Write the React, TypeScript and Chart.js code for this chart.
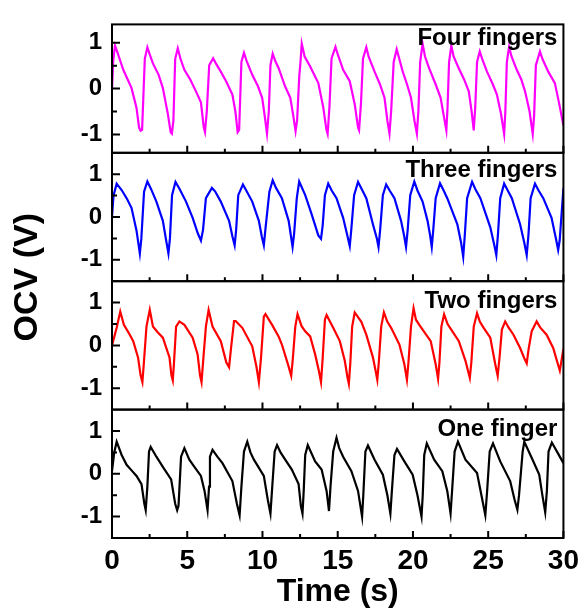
import { useEffect, useRef } from "react";
import { Chart, registerables } from "chart.js";

Chart.register(...registerables);

const FONT = "'Liberation Sans', Arial, Helvetica, sans-serif";

const PANEL_LABELS = ["Four fingers", "Three fingers", "Two fingers", "One finger"];
const PANEL_COLORS = ["#ff00ff", "#0000ff", "#ff0000", "#000000"];
const X_TICKS = [0, 5, 10, 15, 20, 25, 30];
const X_MINOR = [2.5, 7.5, 12.5, 17.5, 22.5, 27.5];
const Y_TICKS = [-1, 0, 1];
const Y_MINOR = [-0.5, 0.5];
const Y_RANGES: [number, number][] = [[-1.4, 1.4], [-1.5, 1.5], [-1.5, 1.5], [-1.5, 1.5]];
const X_TITLE = "Time (s)";
const Y_TITLE = "OCV (V)";

// [time (s), OCV (V)]
const FOUR_FINGERS: [number, number][] = [
  [0, 0.0], [0.08, 0.6], [0.2, 0.94], [0.35, 0.8], [0.75, 0.41], [1.3, 0.01], [1.63, -0.42], [1.8, -0.85], [1.9, -0.92], [2.0, -0.9],
  [2.18, 0.65], [2.35, 0.9], [2.5, 0.75], [2.72, 0.55], [3.1, 0.3], [3.38, 0.01], [3.71, -0.55], [3.9, -0.95], [3.98, -0.98], [4.08, -0.7],
  [4.2, 0.65], [4.37, 0.88], [4.55, 0.65], [4.81, 0.41], [5.2, 0.2], [5.58, -0.06], [5.91, -0.3], [6.1, -0.85], [6.18, -0.95], [6.3, -0.5],
  [6.46, 0.51], [6.72, 0.66], [6.9, 0.55], [7.23, 0.37], [7.6, 0.15], [8.0, -0.13], [8.2, -0.5], [8.35, -0.95], [8.45, -0.9],
  [8.6, 0.58], [8.77, 0.78], [8.95, 0.6], [9.32, 0.3], [9.7, 0.05], [9.98, -0.2], [10.15, -0.6], [10.3, -0.98], [10.42, -0.5],
  [10.53, 0.51], [10.68, 0.76], [10.85, 0.6], [11.07, 0.45], [11.5, 0.05], [11.85, -0.2], [12.05, -0.6], [12.2, -0.93], [12.3, -0.7],
  [12.45, 0.3], [12.51, 0.51], [12.61, 0.98], [12.8, 0.7], [13.17, 0.48], [13.71, 0.12], [14.04, -0.41], [14.25, -0.9], [14.33, -0.99], [14.45, -0.4],
  [14.59, 0.66], [14.85, 0.91], [15.0, 0.75], [15.36, 0.41], [15.8, 0.16], [16.13, -0.34], [16.35, -0.85], [16.42, -0.91], [16.55, -0.3],
  [16.68, 0.65], [16.9, 0.9], [17.05, 0.7], [17.45, 0.37], [17.8, 0.1], [18.11, -0.2], [18.3, -0.7], [18.44, -0.98], [18.55, -0.5],
  [18.72, 0.58], [18.92, 0.86], [19.05, 0.7], [19.32, 0.37], [19.6, 0.1], [19.87, -0.2], [20.1, -0.7], [20.26, -0.98], [20.36, -0.5],
  [20.48, 0.58], [20.64, 0.98], [20.8, 0.7], [21.08, 0.44], [21.5, 0.1], [21.84, -0.2], [22.05, -0.6], [22.22, -0.91], [22.3, -0.4],
  [22.4, 0.58], [22.55, 0.94], [22.7, 0.7], [23.05, 0.44], [23.4, 0.2], [23.71, -0.06], [23.9, -0.5], [24.04, -0.91], [24.14, -0.4],
  [24.26, 0.58], [24.44, 0.81], [24.6, 0.65], [24.92, 0.37], [25.3, 0.1], [25.58, -0.13], [25.85, -0.55], [26.06, -0.99], [26.14, -0.5],
  [26.24, 0.58], [26.39, 0.91], [26.55, 0.7], [26.9, 0.41], [27.2, 0.2], [27.45, -0.06], [27.75, -0.5], [27.96, -0.99], [28.05, -0.6],
  [28.17, 0.51], [28.44, 0.81], [28.6, 0.65], [28.99, 0.37], [29.43, 0.12], [29.7, -0.3], [30, -0.8],
];

const THREE_FINGERS: [number, number][] = [
  [0, 0], [0.1, 0.5], [0.31, 0.78], [0.64, 0.63], [1.0, 0.42], [1.3, 0.21], [1.63, -0.32], [1.85, -0.85], [1.95, -0.5],
  [2.13, 0.59], [2.35, 0.83], [2.6, 0.65], [2.95, 0.36], [3.38, -0.09], [3.6, -0.55], [3.75, -0.85], [3.85, -0.5],
  [3.99, 0.51], [4.22, 0.82], [4.5, 0.65], [4.92, 0.36], [5.36, -0.02], [5.7, -0.38], [5.91, -0.55], [6.05, -0.3],
  [6.24, 0.44], [6.64, 0.68], [6.85, 0.6], [7.23, 0.36], [7.78, -0.09], [8.0, -0.45], [8.15, -0.66], [8.25, -0.3],
  [8.39, 0.51], [8.7, 0.76], [8.95, 0.6], [9.32, 0.36], [9.76, -0.09], [9.95, -0.45], [10.09, -0.66], [10.22, -0.2],
  [10.46, 0.59], [10.68, 0.86], [10.9, 0.68], [11.29, 0.44], [11.74, -0.09], [12.0, -0.7], [12.1, -0.4],
  [12.28, 0.44], [12.44, 0.83], [12.84, 0.51], [13.27, 0.06], [13.71, -0.43], [13.89, -0.51], [14.0, -0.2],
  [14.15, 0.51], [14.37, 0.78], [14.6, 0.62], [14.92, 0.44], [15.36, -0.02], [15.65, -0.45], [15.8, -0.68], [15.9, -0.3],
  [16.09, 0.51], [16.35, 0.82], [16.6, 0.65], [16.9, 0.44], [17.34, -0.17], [17.6, -0.5], [17.71, -0.7], [17.82, -0.3],
  [18.0, 0.51], [18.22, 0.76], [18.45, 0.62], [18.77, 0.44], [19.21, -0.09], [19.42, -0.45], [19.54, -0.7], [19.65, -0.3],
  [19.82, 0.51], [20.09, 0.83], [20.3, 0.62], [20.64, 0.36], [20.97, -0.09], [21.15, -0.45], [21.25, -0.7], [21.35, -0.3],
  [21.51, 0.44], [21.8, 0.79], [22.0, 0.65], [22.28, 0.44], [22.95, -0.17], [23.2, -0.6], [23.34, -0.93], [23.45, -0.4],
  [23.6, 0.44], [23.93, 0.82], [24.15, 0.65], [24.48, 0.44], [25.14, -0.24], [25.4, -0.65], [25.54, -0.89], [25.65, -0.4],
  [25.8, 0.44], [26.06, 0.78], [26.3, 0.62], [26.57, 0.44], [27.12, -0.17], [27.4, -0.6], [27.56, -0.89], [27.68, -0.4],
  [27.82, 0.44], [28.11, 0.78], [28.35, 0.62], [28.66, 0.44], [29.21, -0.02], [29.5, -0.5], [29.65, -0.77], [29.75, -0.55], [30, 0.67],
];

const TWO_FINGERS: [number, number][] = [
  [0, 0], [0.31, 0.41], [0.55, 0.79], [0.79, 0.48], [1.1, 0.3], [1.41, 0.1], [1.73, -0.28], [1.9, -0.7], [2.02, -0.86], [2.12, -0.4],
  [2.29, 0.44], [2.51, 0.83], [2.72, 0.44], [3.05, 0.3], [3.38, 0.18], [3.82, -0.28], [3.95, -0.7], [4.04, -0.82], [4.12, -0.4],
  [4.26, 0.44], [4.48, 0.56], [4.81, 0.48], [5.36, 0.18], [5.69, -0.21], [5.85, -0.7], [5.95, -0.86], [6.05, -0.4],
  [6.24, 0.44], [6.42, 0.83], [6.68, 0.44], [7.23, 0.1], [7.6, -0.4], [7.78, -0.51], [7.9, -0.1],
  [8.11, 0.57], [8.22, 0.57], [8.66, 0.41], [9.32, -0.02], [9.6, -0.5], [9.76, -0.86], [9.9, -0.3],
  [10.09, 0.67], [10.2, 0.73], [10.64, 0.48], [11.07, 0.21], [11.29, 0.02], [11.7, -0.45], [11.91, -0.71], [12.02, -0.3],
  [12.18, 0.44], [12.33, 0.73], [12.6, 0.45], [12.84, 0.33], [13.17, 0.21], [13.5, -0.21], [13.75, -0.6], [13.89, -0.86], [14.0, -0.3],
  [14.15, 0.6], [14.26, 0.71], [14.7, 0.41], [15.14, 0.1], [15.47, -0.36], [15.65, -0.75], [15.74, -0.9], [15.84, -0.4],
  [15.96, 0.44], [16.13, 0.77], [16.57, 0.55], [16.9, 0.25], [17.34, -0.28], [17.55, -0.65], [17.63, -0.8], [17.73, -0.4],
  [17.89, 0.44], [18.07, 0.77], [18.3, 0.55], [18.55, 0.41], [19.1, 0.02], [19.43, -0.44], [19.6, -0.8], [19.7, -0.4],
  [19.87, 0.44], [20.04, 0.87], [20.2, 0.6], [20.42, 0.48], [21.18, 0.1], [21.51, -0.44], [21.67, -0.78], [21.76, -0.4],
  [21.89, 0.44], [22.07, 0.73], [22.3, 0.5], [22.62, 0.33], [23.05, 0.1], [23.49, -0.36], [23.7, -0.65], [23.78, -0.76], [23.88, -0.4],
  [24.04, 0.44], [24.26, 0.75], [24.45, 0.55], [24.7, 0.41], [25.14, 0.18], [25.47, -0.44], [25.63, -0.71], [25.75, -0.3],
  [25.91, 0.37], [26.13, 0.56], [26.35, 0.42], [26.68, 0.25], [27.12, -0.06], [27.4, -0.3], [27.56, -0.42], [27.68, -0.1],
  [27.89, 0.33], [28.22, 0.56], [28.45, 0.42], [28.88, 0.25], [29.32, -0.06], [29.6, -0.4], [29.76, -0.59], [30, -0.08],
];

const ONE_FINGER: [number, number][] = [
  [0, 0.06], [0.15, 0.5], [0.31, 0.75], [0.64, 0.44], [0.97, 0.21], [1.3, 0.08], [1.63, -0.05], [1.96, -0.24], [2.15, -0.7], [2.24, -0.85], [2.35, -0.3],
  [2.46, 0.52], [2.57, 0.63], [2.95, 0.4], [3.4, 0.15], [3.93, -0.13], [4.2, -0.7], [4.33, -0.85], [4.42, -0.75],
  [4.59, 0.4], [4.81, 0.6], [5.14, 0.33], [5.5, 0.15], [5.91, -0.05], [6.15, -0.4], [6.35, -0.85], [6.45, -0.3],
  [6.51, 0.4], [6.68, 0.56], [7.0, 0.4], [7.34, 0.25], [8.0, -0.17], [8.3, -0.7], [8.48, -0.97], [8.6, -0.3],
  [8.77, 0.52], [8.99, 0.75], [9.2, 0.5], [9.43, 0.33], [10.09, -0.05], [10.35, -0.6], [10.53, -0.93], [10.65, -0.3],
  [10.81, 0.52], [10.97, 0.67], [11.2, 0.5], [11.51, 0.33], [11.95, 0.1], [12.4, -0.24], [12.55, -0.75], [12.66, -0.93], [12.74, -0.4],
  [12.84, 0.44], [13.01, 0.67], [13.5, 0.29], [13.93, 0.1], [14.26, -0.4], [14.42, -0.87], [14.52, -0.3],
  [14.7, 0.52], [14.92, 0.84], [15.1, 0.6], [15.36, 0.4], [15.91, 0.06], [16.35, -0.4], [16.62, -1.0], [16.7, -0.5],
  [16.84, 0.52], [17.01, 0.66], [17.45, 0.33], [18.0, -0.02], [18.3, -0.5], [18.5, -0.93], [18.6, -0.4],
  [18.77, 0.44], [18.94, 0.58], [19.43, 0.29], [19.98, -0.02], [20.3, -0.5], [20.57, -1.0], [20.65, -0.5],
  [20.75, 0.44], [20.92, 0.71], [21.41, 0.33], [21.95, 0.06], [22.28, -0.4], [22.5, -0.93], [22.6, -0.4],
  [22.77, 0.52], [22.99, 0.75], [23.49, 0.33], [24.26, 0.02], [24.55, -0.5], [24.81, -0.97], [24.93, -0.4],
  [25.1, 0.52], [25.32, 0.71], [25.8, 0.29], [26.46, -0.17], [26.75, -0.6], [26.94, -0.84], [27.05, -0.5],
  [27.29, 0.52], [27.4, 0.75], [27.95, 0.33], [28.39, -0.02], [28.6, -0.5], [28.79, -0.9], [28.9, -0.4],
  [29.01, 0.52], [29.23, 0.73], [29.6, 0.5], [30, 0.25],
];

const SERIES = [FOUR_FINGERS, THREE_FINGERS, TWO_FINGERS, ONE_FINGER];
const Y_IDS = ["y1", "y2", "y3", "y4"];
const LABEL_OFFSETS = [21, 24, 27, 26];

const framePlugin = {
  id: "panelFrames",
  afterDatasetsDraw(chart: any) {
    const ctx: CanvasRenderingContext2D = chart.ctx;
    const { left, right } = chart.chartArea;
    const xs = chart.scales.x;
    ctx.save();
    ctx.strokeStyle = "#000";
    ctx.lineWidth = 2;
    Y_IDS.forEach((id, i) => {
      const ys = chart.scales[id];
      const top = ys.top;
      const bottom = ys.bottom;
      ctx.strokeRect(left, top, right - left, bottom - top);
      ctx.beginPath();
      X_TICKS.forEach((v) => {
        const px = xs.getPixelForValue(v);
        ctx.moveTo(px, bottom);
        ctx.lineTo(px, bottom - 7);
      });
      X_MINOR.forEach((v) => {
        const px = xs.getPixelForValue(v);
        ctx.moveTo(px, bottom);
        ctx.lineTo(px, bottom - 4);
      });
      Y_TICKS.forEach((v) => {
        const py = ys.getPixelForValue(v);
        ctx.moveTo(left, py);
        ctx.lineTo(left + 8, py);
      });
      Y_MINOR.forEach((v) => {
        const py = ys.getPixelForValue(v);
        ctx.moveTo(left, py);
        ctx.lineTo(left + 5, py);
      });
      ctx.stroke();
      ctx.fillStyle = "#000";
      ctx.font = `bold 24px ${FONT}`;
      ctx.textAlign = "right";
      ctx.textBaseline = "alphabetic";
      ctx.fillText(PANEL_LABELS[i], right - 6, top + LABEL_OFFSETS[i]);
    });
    ctx.translate(28, (chart.chartArea.top + chart.chartArea.bottom) / 2 - 4);
    ctx.rotate(-Math.PI / 2);
    ctx.textAlign = "center";
    ctx.textBaseline = "middle";
    ctx.font = `bold 34px ${FONT}`;
    ctx.fillStyle = "#000";
    ctx.fillText(Y_TITLE, 0, 0);
    ctx.restore();
  },
};

export default function App() {
  const ref = useRef<HTMLCanvasElement | null>(null);

  useEffect(() => {
    if (!ref.current) return;
    const yScales: any = {};
    Y_IDS.forEach((id, i) => {
      yScales[id] = {
        type: "linear",
        position: "left",
        stack: "ocv",
        stackWeight: 1,
        weight: 4 - i,
        min: Y_RANGES[i][0],
        max: Y_RANGES[i][1],
        afterBuildTicks: (s: any) => {
          s.ticks = Y_TICKS.map((v) => ({ value: v }));
        },
        afterFit: (s: any) => {
          s.width = 112;
        },
        grid: { display: false, drawTicks: false },
        border: { display: false },
        ticks: {
          color: "#000",
          padding: 10,
          font: { family: FONT, size: 24, weight: "bold" },
          callback: (v: any) => String(v),
        },
      };
    });

    const chart = new Chart(ref.current, {
      type: "line",
      data: {
        datasets: SERIES.map((s, i) => ({
          label: PANEL_LABELS[i],
          data: s.map(([x, y]) => ({ x, y })),
          xAxisID: "x",
          yAxisID: Y_IDS[i],
          borderColor: PANEL_COLORS[i],
          backgroundColor: PANEL_COLORS[i],
          borderWidth: 2.2,
          pointRadius: 0,
          tension: 0,
          fill: false,
        })),
      },
      options: {
        animation: false,
        responsive: false,
        maintainAspectRatio: false,
        layout: { padding: { left: 0, top: 12, right: 19, bottom: 0 } },
        plugins: { legend: { display: false }, tooltip: { enabled: false } },
        scales: {
          x: {
            type: "linear",
            position: "bottom",
            min: 0,
            max: 30,
            afterBuildTicks: (s: any) => {
              s.ticks = X_TICKS.map((v) => ({ value: v }));
            },
            afterFit: (s: any) => {
              s.height = 73;
            },
            grid: { display: false, drawTicks: false },
            border: { display: false },
            ticks: {
              color: "#000",
              padding: 6,
              maxRotation: 0,
              autoSkip: false,
              font: { family: FONT, size: 28, weight: "bold" },
            },
            title: {
              display: true,
              text: X_TITLE,
              color: "#000",
              font: { family: FONT, size: 32, weight: "bold" },
              padding: { top: 0, bottom: 0 },
            },
          },
          ...yScales,
        },
      },
      plugins: [framePlugin],
    } as any);
    return () => chart.destroy();
  }, []);

  return (
    <div style={{ position: "fixed", left: 0, top: 0, width: 585, height: 611, background: "#fff" }}>
      <canvas ref={ref} width={585} height={611} style={{ display: "block" }} />
    </div>
  );
}
